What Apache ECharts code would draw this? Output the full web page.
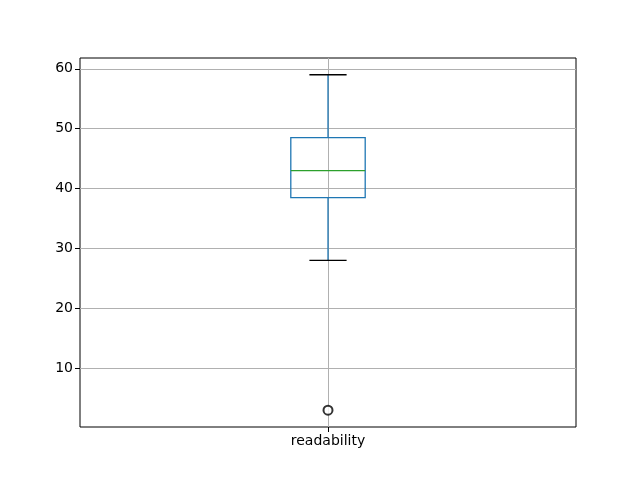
<!DOCTYPE html>
<html>
<head>
<meta charset="utf-8">
<script src="https://cdn.jsdelivr.net/npm/echarts@6/dist/echarts.min.js"></script>
<style>
  html, body { margin: 0; padding: 0; background: #fff; }
  #main { width: 640px; height: 480px; }
</style>
</head>
<body>
<div id="main"></div>
<script>
// box statistics
const categories = ['readability'];
const whiskerLow = [28];
const q1 = [38.5];
const median = [43];
const q3 = [48.5];
const whiskerHigh = [59];
const outliers = [3];
const yTicks = [10, 20, 30, 40, 50, 60];

const boxData = categories.map((c, i) => [i + 1, whiskerLow[i], q1[i], median[i], q3[i], whiskerHigh[i]]);
const outlierData = outliers.map(v => [1, v]);

const chart = echarts.init(document.getElementById('main'));

function renderBox(params, api) {
  const x = api.value(0);
  const lo = api.coord([x, api.value(1)]);
  const b1 = api.coord([x, api.value(2)]);
  const md = api.coord([x, api.value(3)]);
  const b3 = api.coord([x, api.value(4)]);
  const hi = api.coord([x, api.value(5)]);
  const half = api.size([0.075, 0])[0];
  const capHalf = half / 2;
  const blue = '#1f77b4';
  const lw = 1.3;
  return {
    type: 'group',
    children: [
      { type: 'line', shape: { x1: lo[0], y1: b1[1], x2: lo[0], y2: lo[1] }, style: { stroke: blue, lineWidth: lw } },
      { type: 'line', shape: { x1: hi[0], y1: b3[1], x2: hi[0], y2: hi[1] }, style: { stroke: blue, lineWidth: lw } },
      { type: 'rect', shape: { x: b1[0] - half, y: b3[1], width: half * 2, height: b1[1] - b3[1] }, style: { fill: null, stroke: blue, lineWidth: lw } },
      { type: 'line', shape: { x1: lo[0] - capHalf, y1: lo[1], x2: lo[0] + capHalf, y2: lo[1] }, style: { stroke: '#000', lineWidth: lw } },
      { type: 'line', shape: { x1: hi[0] - capHalf, y1: hi[1], x2: hi[0] + capHalf, y2: hi[1] }, style: { stroke: '#000', lineWidth: lw } },
      { type: 'line', shape: { x1: md[0] - half, y1: md[1], x2: md[0] + half, y2: md[1] }, style: { stroke: '#2ca02c', lineWidth: lw } }
    ]
  };
}

const option = {
  animation: false,
  grid: {
    left: 80, right: 64, top: 58, bottom: 53,
    show: true, borderColor: '#000', borderWidth: 1, backgroundColor: 'transparent'
  },
  xAxis: {
    type: 'value',
    min: 0.5, max: 1.5,
    axisLine: { show: false },
    axisTick: { show: true, customValues: [1], length: 5, lineStyle: { color: '#000' } },
    axisLabel: {
      customValues: [1],
      formatter: v => categories[Math.round(v) - 1] || '',
      color: '#000', fontSize: 14, fontFamily: 'DejaVu Sans', margin: 7
    },
    splitLine: { show: true, customValues: [1], lineStyle: { color: '#b0b0b0', width: 1 } }
  },
  yAxis: {
    type: 'value',
    min: 0.2, max: 61.8,
    axisLine: { show: false },
    axisTick: { show: true, customValues: yTicks, length: 5, lineStyle: { color: '#000' } },
    axisLabel: { customValues: yTicks, color: '#000', fontSize: 14, fontFamily: 'DejaVu Sans', margin: 7 },
    splitLine: { show: true, customValues: yTicks, lineStyle: { color: '#b0b0b0', width: 1 } }
  },
  series: [
    {
      type: 'custom',
      renderItem: renderBox,
      data: boxData,
      encode: { x: 0, y: [1, 2, 3, 4, 5] },
      z: 3
    },
    {
      type: 'scatter',
      data: outlierData,
      symbol: 'emptyCircle',
      symbolSize: 9,
      itemStyle: { color: '#000', borderColor: '#000', borderWidth: 1.2 },
      z: 4
    }
  ]
};

chart.setOption(option);
</script>
</body>
</html>
